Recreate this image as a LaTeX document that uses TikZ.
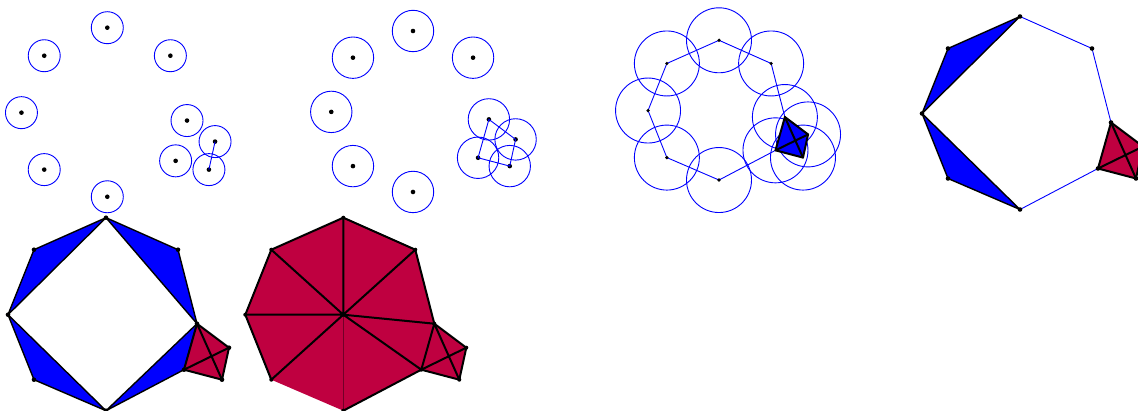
\documentclass[tikz,border=0pt]{standalone}
\definecolor{crim}{RGB}{191,0,64}
\newcommand\defshape[1]{%
  \coordinate (#1T) at (0,0);
  \coordinate (#1UL) at (-72,32);
  \coordinate (#1UR) at (72,32);
  \coordinate (#1L) at (-98,97);
  \coordinate (#1LL) at (-72,162);
  \coordinate (#1B) at (0,193);
  \coordinate (#1C) at (0,97);
  \coordinate (#1Qa) at (91,106);
  \coordinate (#1Qb) at (123,130);
  \coordinate (#1Qc) at (116,162);
  \coordinate (#1Qd) at (78,152);
}
\begin{document}
\begin{tikzpicture}[x=1pt,y=-1pt,
  ring/.style={draw=blue,line width=0.9pt},
  thinblue/.style={draw=blue,line width=0.9pt},
  edge/.style={draw=black,line width=1.4pt,line join=round,line cap=round},
  quadedge/.style={draw=black,line width=2pt,line join=round,line cap=round},
  bluefill/.style={fill=blue},
  redfill/.style={fill=crim}]
\useasboundingbox (0,0) rectangle (1138,411);
% shapes
\begin{scope}[shift={(107.3,27.7)},scale=0.876]\defshape{a}\end{scope}
\begin{scope}[shift={(413,31)},scale=0.834]\defshape{b}\end{scope}
\begin{scope}[shift={(719,40.3)},scale=0.724]\defshape{c}\end{scope}
\begin{scope}[shift={(1020,16.5)},scale=1.0]\defshape{d}\end{scope}
\begin{scope}[shift={(106,217.7)},scale=1.0]\defshape{e}\end{scope}
\begin{scope}[shift={(343.3,217.7)},scale=1.0]\defshape{f}\end{scope}

% ---- panel 1
\foreach \v in {T,UL,UR,L,LL,B,Qa,Qb,Qc,Qd}{
  \draw[ring] (a\v) circle[radius=16];
  \fill (a\v) circle[radius=2.3];
}
\draw[thinblue] (aQb) -- (aQc);

% ---- panel 2
\foreach \v in {T,UL,UR,L,LL,B,Qa,Qb,Qc,Qd}{
  \draw[ring] (b\v) circle[radius=20.7];
  \fill (b\v) circle[radius=2.3];
}
\draw[thinblue] (bQa) -- (bQb) -- (bQc) -- (bQd) -- cycle;

% ---- panel 3
\foreach \v in {T,UL,UR,L,LL,B,Qa,Qb,Qc,Qd}{
  \draw[ring] (c\v) circle[radius=32.5];
}
\draw[thinblue,line join=round] (cQa) -- (cUR) -- (cT) -- (cUL) -- (cL) -- (cLL) -- (cB) -- (cQd);
\filldraw[bluefill,quadedge] (cQa) -- (cQb) -- (cQc) -- (cQd) -- cycle;
\draw[quadedge] (cQa) -- (cQc) (cQb) -- (cQd);
\foreach \v in {T,UL,UR,L,LL,B}{\fill (c\v) circle[radius=1.8];}

% ---- panel 4
\filldraw[bluefill,edge] (dT) -- (dUL) -- (dL) -- cycle;
\filldraw[bluefill,edge] (dL) -- (dLL) -- (dB) -- cycle;
\draw[thinblue,line join=round] (dQa) -- (dUR) -- (dT);
\draw[thinblue] (dB) -- (dQd);
\filldraw[redfill,quadedge] (dQa) -- (dQb) -- (dQc) -- (dQd) -- cycle;
\draw[quadedge] (dQa) -- (dQc) (dQb) -- (dQd);
\foreach \v in {T,UL,UR,L,LL,B,Qa,Qb,Qc,Qd}{\fill (d\v) circle[radius=2.3];}

% ---- panel 5
\filldraw[bluefill,edge] (eT) -- (eUL) -- (eL) -- cycle;
\filldraw[bluefill,edge] (eL) -- (eLL) -- (eB) -- cycle;
\filldraw[bluefill,edge] (eT) -- (eUR) -- (eQa) -- cycle;
\filldraw[bluefill,edge] (eB) -- (eQd) -- (eQa) -- cycle;
\filldraw[redfill,quadedge] (eQa) -- (eQb) -- (eQc) -- (eQd) -- cycle;
\draw[quadedge] (eQa) -- (eQc) (eQb) -- (eQd);
\foreach \v in {T,UL,UR,L,LL,B,Qa,Qb,Qc,Qd}{\fill (e\v) circle[radius=2.3];}

% ---- panel 6
\fill[crim] (fT) -- (fUR) -- (fQa) -- (fQb) -- (fQc) -- (fQd) -- (fB) -- (fLL) -- (fL) -- (fUL) -- cycle;
\draw[crim!60!black,line width=0.6pt] (fC) -- (fB);
\draw[quadedge] (fLL) -- (fL) -- (fUL) -- (fT) -- (fUR) -- (fQa) -- (fQb) -- (fQc) -- (fQd) -- (fB);
\draw[quadedge] (fC) -- (fT) (fC) -- (fUL) (fC) -- (fL) (fC) -- (fLL) (fC) -- (fUR)
  (fC) -- (fQa) (fC) -- (fQd) (fQa) -- (fQd) (fQa) -- (fQc) (fQb) -- (fQd);
\foreach \v in {T,UL,UR,L,LL,B,C,Qa,Qb,Qc,Qd}{\fill (f\v) circle[radius=2];}
\end{tikzpicture}
\end{document}
